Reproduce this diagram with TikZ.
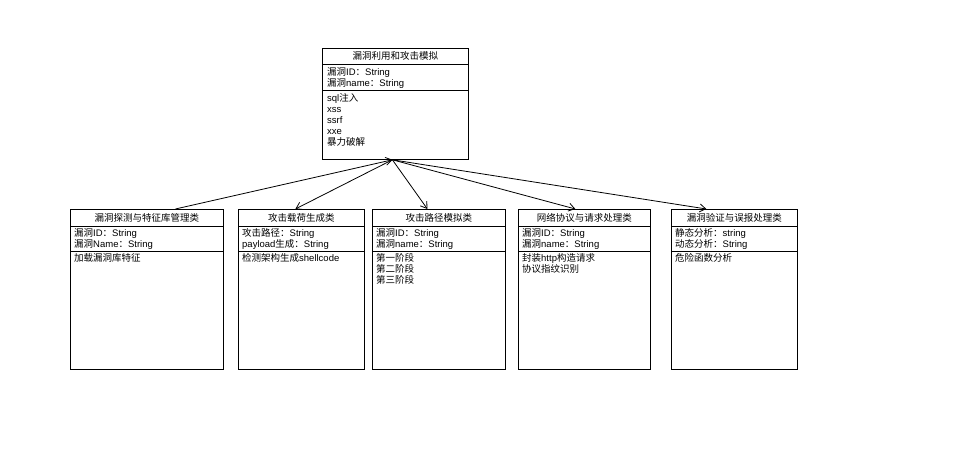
\documentclass[tikz,border=0pt]{standalone}
\usepackage{fontspec}
\setmainfont{Liberation Sans}
\newfontfamily\cjk{Noto Sans CJK SC}
\usetikzlibrary{arrows.meta,positioning,calc}
\newcommand{\zh}[1]{{\cjk #1}}
\tikzset{
  classbox/.style={draw, line width=0.8pt, anchor=north west, inner sep=0pt},
  classtitle/.style={font=\cjk\fontsize{9.5}{11}\selectfont, inner sep=0pt, anchor=center},
  classfield/.style={font=\fontsize{9.5}{11}\selectfont, align=left, inner sep=0pt, anchor=north west},
  sepline/.style={line width=0.8pt},
  assoc/.style={-{Straight Barb[length=6pt,width=8pt]}, line width=0.8pt}
}

\begin{document}
\begin{tikzpicture}[x=1pt,y=-1pt]
    \useasboundingbox (0,0) rectangle (954,473);

    % top class
    \node[classbox, minimum width=146, minimum height=111] (exploit) at (322,48) {};
    \node[classtitle] (exploit-title) at ($(exploit.north)+(0,8)$) {漏洞利用和攻击模拟};
    \draw[sepline] ($(exploit.north west)+(0,16)$) -- ($(exploit.north east)+(0,16)$);
    \draw[sepline] ($(exploit.north west)+(0,42)$) -- ($(exploit.north east)+(0,42)$);
    \node[classfield] (exploit-attr) at ($(exploit.north west)+(5,19)$)
      {\zh{漏洞}ID\zh{：}String\\\zh{漏洞}name\zh{：}String};
    \node[classfield] (exploit-ops) at ($(exploit.north west)+(5,45)$)
      {sql\zh{注入}\\xss\\ssrf\\xxe\\\zh{暴力破解}};

    % bottom classes
    \node[classbox, minimum width=153, minimum height=160] (detect) at (70,209) {};
    \node[classbox, minimum width=126, minimum height=160] (payload) at (238,209) {};
    \node[classbox, minimum width=133, minimum height=160] (path) at (372,209) {};
    \node[classbox, minimum width=132, minimum height=160] (proto) at (518,209) {};
    \node[classbox, minimum width=126, minimum height=160] (verify) at (671,209) {};

    \foreach \cls in {detect,payload,path,proto,verify} {
      \draw[sepline] ($(\cls.north west)+(0,17)$) -- ($(\cls.north east)+(0,17)$);
      \draw[sepline] ($(\cls.north west)+(0,42)$) -- ($(\cls.north east)+(0,42)$);
    }

    \node[classtitle] (detect-title) at ($(detect.north)+(0,8.5)$) {漏洞探测与特征库管理类};
    \node[classfield] (detect-attr) at ($(detect.north west)+(4,19)$)
      {\zh{漏洞}ID\zh{：}String\\\zh{漏洞}Name\zh{：}String};
    \node[classfield] (detect-ops) at ($(detect.north west)+(4,44)$) {\zh{加载漏洞库特征}};

    \node[classtitle] (payload-title) at ($(payload.north)+(0,8.5)$) {攻击载荷生成类};
    \node[classfield] (payload-attr) at ($(payload.north west)+(4,19)$)
      {\zh{攻击路径：}String\\payload\zh{生成：}String};
    \node[classfield] (payload-ops) at ($(payload.north west)+(4,44)$) {\zh{检测架构生成}shellcode};

    \node[classtitle] (path-title) at ($(path.north)+(0,8.5)$) {攻击路径模拟类};
    \node[classfield] (path-attr) at ($(path.north west)+(4,19)$)
      {\zh{漏洞}ID\zh{：}String\\\zh{漏洞}name\zh{：}String};
    \node[classfield] (path-ops) at ($(path.north west)+(4,44)$)
      {\zh{第一阶段}\\\zh{第二阶段}\\\zh{第三阶段}};

    \node[classtitle] (proto-title) at ($(proto.north)+(0,8.5)$) {网络协议与请求处理类};
    \node[classfield] (proto-attr) at ($(proto.north west)+(4,19)$)
      {\zh{漏洞}ID\zh{：}String\\\zh{漏洞}name\zh{：}String};
    \node[classfield] (proto-ops) at ($(proto.north west)+(4,44)$)
      {\zh{封装}http\zh{构造请求}\\\zh{协议指纹识别}};

    \node[classtitle] (verify-title) at ($(verify.north)+(0,8.5)$) {漏洞验证与误报处理类};
    \node[classfield] (verify-attr) at ($(verify.north west)+(4,19)$)
      {\zh{静态分析：}string\\\zh{动态分析：}String};
    \node[classfield] (verify-ops) at ($(verify.north west)+(4,44)$) {\zh{危险函数分析}};

    % associations
    \coordinate (hub) at ($(exploit.south)+(-3,0)$);
    \draw[assoc] ($(detect.north)+(28.5,0)$) -- (hub);
    \draw[assoc] (hub) -- ($(payload.north)+(-6,0)$);
    \draw[assoc] (hub) -- ($(path.north)+(-11.5,0)$);
    \draw[assoc] (hub) -- ($(proto.north)+(-9,0)$);
    \draw[assoc] (hub) -- ($(verify.north)+(-28,0)$);
\end{tikzpicture}
\end{document}
